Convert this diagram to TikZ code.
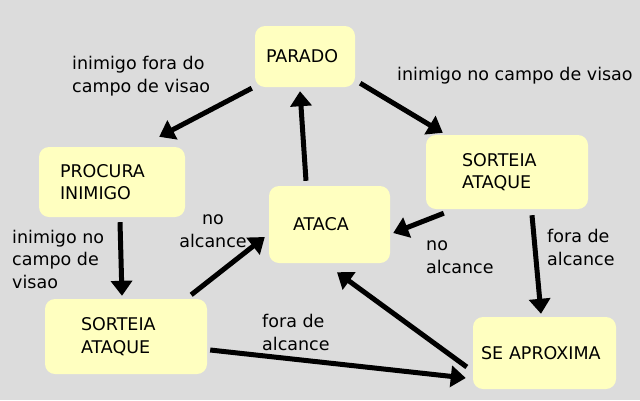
\documentclass[tikz,border=0pt]{standalone}
\usepackage{fontspec}
\setmainfont{DejaVu Sans}
\usetikzlibrary{arrows.meta,positioning}
\definecolor{bggrey}{RGB}{220,220,220}
\definecolor{stateyellow}{RGB}{255,255,192}

\begin{document}
\begin{tikzpicture}[x=1pt,y=-1pt,
						font=\fontsize{17.5}{22.5}\selectfont,
						state/.style = {fill=stateyellow, rounded corners=10pt, align=left, inner ysep=0pt},
						trans/.style = {line width=5pt, -{Triangle[length=15pt,width=21pt]}},
						lbl/.style = {anchor=base west, inner sep=0pt, align=left}
					]
					\fill[bggrey] (0,0) rectangle (640,400);
					\node[state, text width=78pt, inner xsep=11pt, minimum height=61pt] (parado) at (305,56.5) {PARADO};
					\node[state, text width=104pt, inner xsep=21pt, minimum height=70pt] (procura) at (112,182) {PROCURA\\INIMIGO};
					\node[state, text width=73pt, inner xsep=24pt, minimum height=77pt] (ataca) at (329.5,224.5) {ATACA};
					\node[state, text width=90pt, inner xsep=36pt, minimum height=74pt] (sorteiadir) at (507,172) {SORTEIA\\ATAQUE};
					\node[state, text width=90pt, inner xsep=36pt, minimum height=75pt] (sorteiaesq) at (126,336.5) {SORTEIA\\ATAQUE};
					\node[state, text width=127pt, inner xsep=8pt, minimum height=72pt] (aproxima) at (544.5,353) {SE APROXIMA};

					\draw[trans] ([shift={(-3,1)}]parado.south west) -- ([shift={(-26,-10)}]procura.north east);
					\draw[trans] ([shift={(5,-4)}]parado.south east) -- ([shift={(17,-2)}]sorteiadir.north west);
					\draw[trans] ([shift={(-23.5,-5)}]ataca.north) -- ([shift={(-5,4)}]parado.south);
					\draw[trans] ([shift={(8,5)}]procura.south) -- ([shift={(-4,-3)}]sorteiaesq.north);
					\draw[trans] ([shift={(-16,-4)}]sorteiaesq.north east) -- ([shift={(-4,12.5)}]ataca.west);
					\draw[trans] ([shift={(18,4)}]sorteiadir.south west) -- ([shift={(3,8.5)}]ataca.east);
					\draw[trans] ([shift={(25,6)}]sorteiadir.south) -- ([shift={(-3.5,-3)}]aproxima.north);
					\draw[trans] ([shift={(3,13.5)}]sorteiaesq.east) -- ([shift={(-7,25)}]aproxima.west);
					\draw[trans] ([shift={(-6,14)}]aproxima.west) -- ([shift={(7.5,9)}]ataca.south);

					\node[lbl] (foravisao) at (72,92) {inimigo fora do\\campo de visao};
					\node[lbl] (novisao) at (397,80) {inimigo no campo de visao};
					\node[lbl] (novisaoesq) at (12,288) {inimigo no\\campo de\\visao};
					\node[lbl, align=center, anchor=base] (alcanceesq) at (213,247) {no\\alcance};
					\node[lbl] (alcancedir) at (426,273) {no\\alcance};
					\node[lbl] (foradir) at (547,265) {fora de\\alcance};
					\node[lbl] (forabaixo) at (262,350) {fora de\\alcance};
				\end{tikzpicture}
\end{document}
